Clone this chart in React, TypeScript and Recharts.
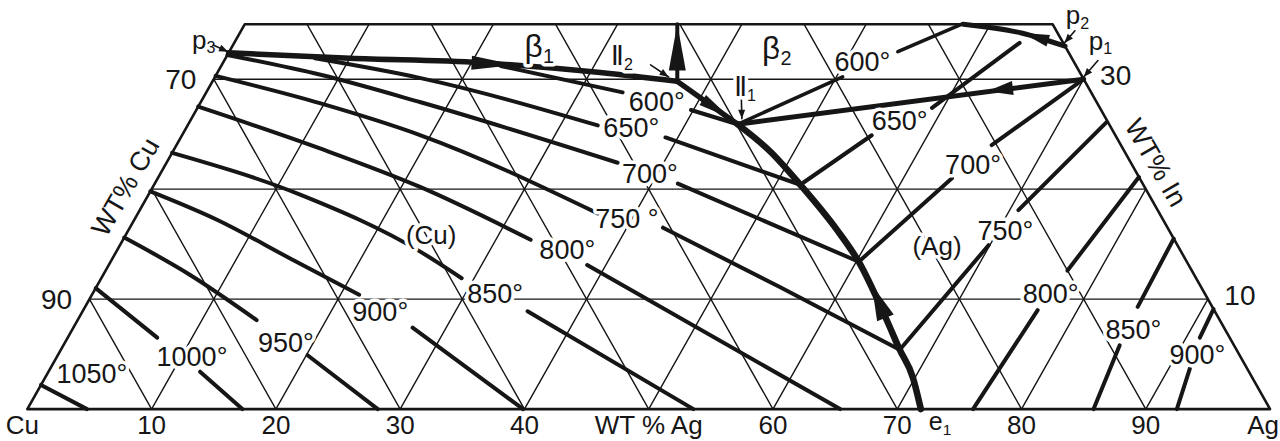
import { ScatterChart, Scatter, XAxis, YAxis } from "recharts";

// composition point: [wt% Ag, wt% In], Cu is the balance
type Pt = [number, number];

const W = 1280;
const H = 441;
const X_DOMAIN: [number, number] = [-2.2, 100.8];
const Y_DOMAIN: [number, number] = [-2.9, 37.2];
const PX_X = W / (X_DOMAIN[1] - X_DOMAIN[0]);
const PX_Y = H / (Y_DOMAIN[1] - Y_DOMAIN[0]);

const INK = "#161616";
const FONT = "'Liberation Sans', 'DejaVu Sans', Arial, sans-serif";

// ---- axes / grid ----
const BASE_TICKS = [0, 10, 20, 30, 40, 50, 60, 70, 80, 90, 100];
const BASE_TICK_LABELS = ["Cu", "10", "20", "30", "40", "WT % Ag", "60", "70", "80", "90", "Ag"];
const GRID_STEPS = [10, 20, 30, 40, 50, 60, 70, 80, 90];
const IN_LEVELS = [10, 20, 30];
const IN_TOP = 35; // section cut off at 35 wt% In
const LEFT_TICKS = [
  { inn: 30, label: "70" },
  { inn: 10, label: "90" },
];
const RIGHT_TICKS = [
  { inn: 30, label: "30" },
  { inn: 10, label: "10" },
];

// ---- univariant lines ----
const p3ToII2: Pt[] = [[0, 32.4], [10.0, 31.9], [20.7, 31.5], [30.8, 30.6], [37.4, 29.8]];
const ii2ToII1: Pt[] = [[37.4, 29.8], [44.2, 25.9]];
const ii2ToTop: Pt[] = [[37.4, 29.8], [34.8, 35]];
const ii1ToP1: Pt[] = [[44.2, 25.9], [70, 30]];
const p2Line: Pt[] = [[57.8, 35], [62.9, 34.2], [67, 33]];
const ii1ToE1: Pt[] = [
  [44.2, 25.9], [48.1, 23.4], [52.0, 20.4], [57.0, 16.3], [60.2, 13.4],
  [65.1, 8.1], [67.5, 5.4], [69.8, 2.9], [71.9, 0],
];

// ---- liquidus isotherms, Cu-rich side (segments split at the label) ----
const cu600: Pt[][] = [[[22.5, 31.2], [33.5, 28.8]], [[39.8, 27.2], [44.2, 25.9]]];
const cu650: Pt[][] = [[[7.2, 31.9], [16.6, 30.1], [33.0, 25.8]], [[39.0, 24.7], [52.0, 20.4]]];
const cu700: Pt[][] = [[[0, 32.2], [8.4, 30.4], [17.7, 27.9], [36.3, 22.4]], [[42.1, 20.5], [60.2, 13.4]]];
const cu750: Pt[][] = [[[0, 30.3], [9.7, 27.8], [19.2, 24.9], [37.0, 17.8]], [[42.9, 16.5], [55.0, 11.1], [67.5, 5.4]]];
const cu800: Pt[][] = [[[0, 27.5], [11.7, 23.7], [21.5, 20.2], [32.8, 15.4]], [[38.5, 13.1], [65.4, 0]]];
const cu850: Pt[][] = [[[0, 23.3], [12.2, 19.5], [24.5, 14.3], [29.0, 11.9]], [[35.8, 8.9], [53.6, 0]]];
const cu900: Pt[][] = [[[0, 19.8], [6.7, 17.2], [14.3, 13.7], [21.5, 10.4]], [[27.3, 7.4], [39.9, 0]]];
const cu950: Pt[][] = [[[0, 15.6], [7.0, 12.2], [14.4, 8.1]], [[20.1, 4.9], [28.2, 0]]];
const cu1000: Pt[][] = [[[0, 11.0], [7.2, 6.5]], [[12.2, 3.4], [17.3, 0]]];
const cu1050: Pt[][] = [[[0, 2.2], [4.8, 0]]];

// ---- liquidus isotherms, Ag-rich side ----
const ag600: Pt[][] = [[[44.2, 25.9], [50.5, 30.2]], [[53.8, 32.5], [57.7, 35]]];
const ag650: Pt[][] = [[[52.0, 20.4], [55.5, 24.9]], [[59.1, 27.4], [63.2, 33.3]]];
const ag700: Pt[][] = [[[60.2, 13.4], [63.9, 21.0]], [[65.6, 24.0], [70, 30]]];
const ag750: Pt[][] = [[[67.5, 5.4], [69.9, 14.9]], [[70.7, 18.1], [73.8, 26.1]]];
const ag800: Pt[][] = [[[76.1, 0], [76.8, 9.0]], [[77.4, 12.6], [78.9, 21.1]]];
const ag850: Pt[][] = [[[85.8, 0], [85.0, 5.8]], [[84.7, 9.3], [84.5, 15.5]]];
const ag900: Pt[][] = [[[92.5, 0], [91.7, 3.7]], [[91.1, 6.5], [90.9, 9.1]]];

// ---- labels ----
const TEMP_LABELS: { text: string; at: Pt }[] = [
  { text: "600°", at: [36.7, 27.9] },
  { text: "650°", at: [35.8, 25.6] },
  { text: "700°", at: [39.4, 21.4] },
  { text: "750 °", at: [39.6, 17.3] },
  { text: "800°", at: [36.2, 14.5] },
  { text: "850°", at: [32.4, 10.5] },
  { text: "900°", at: [24.0, 8.8] },
  { text: "950°", at: [17.8, 6.0] },
  { text: "1000°", at: [10.9, 4.7] },
  { text: "1050°", at: [3.6, 3.2] },
  { text: "600°", at: [51.4, 31.6] },
  { text: "650°", at: [57.1, 26.2] },
  { text: "700°", at: [65.0, 22.2] },
  { text: "750°", at: [70.6, 16.2] },
  { text: "800°", at: [77.1, 10.5] },
  { text: "850°", at: [85.4, 7.2] },
  { text: "900°", at: [91.7, 4.9] },
];
const POINT_LABELS: { text: string; sub: string; at: Pt }[] = [
  { text: "p", sub: "3", at: [-2.6, 33.6] },
  { text: "p", sub: "2", at: [66.6, 35.8] },
  { text: "p", sub: "1", at: [69.6, 33.5] },
];
const GREEK_LABELS: { text: string; sub: string; at: Pt }[] = [
  { text: "β", sub: "1", at: [24.7, 33.0] },
  { text: "β", sub: "2", at: [43.9, 32.8] },
];
const PHASE_LABELS: { text: string; sub?: string; at: Pt }[] = [
  { text: "Ⅱ", sub: "2", at: [31.8, 32.1] },
  { text: "Ⅱ", sub: "1", at: [43.1, 29.3] },
  { text: "(Cu)", at: [24.6, 15.8] },
  { text: "(Ag)", at: [65.8, 14.8] },
];
const EUTECTIC_LABEL = { text: "e", sub: "1", ag: 73.45 };
const CU_TITLE: Pt = [-2.2, 20.2];
const IN_TITLE: Pt = [79.6, 22.4];

// direction arrows on the univariant lines
const ARROW_HEADS: { tip: Pt; tail: Pt }[] = [
  { tip: [23.6, 31.3], tail: [20.0, 31.5] },
  { tip: [43.3, 26.5], tail: [40.3, 28.1] },
  { tip: [34.8, 35], tail: [36.9, 30.8] },
  { tip: [62.8, 28.9], tail: [64.7, 29.2] },
  { tip: [63.0, 34.2], tail: [65.4, 33.5] },
  { tip: [62.3, 11.3], tail: [64.9, 8.3] },
];
const ARROW_HALF = [7, 6, 8.5, 7, 6, 9];

// small pointers from the point labels
const POINTERS: { from: Pt; to: Pt }[] = [
  { from: [-1.6, 33.1], to: [-0.1, 32.5] },
  { from: [34.5, 31.3], to: [36.5, 30.2] },
  { from: [43.2, 28.5], to: [44.3, 26.4] },
  { from: [70.3, 31.7], to: [69.9, 30.2] },
  { from: [67.1, 34.4], to: [66.8, 33.3] },
];

const toXY = ([ag, inn]: Pt) => ({ x: ag + inn / 2, y: inn });

const gridLines: Pt[][] = [
  ...IN_LEVELS.map((v): Pt[] => [[0, v], [100 - v, v]]),
  ...GRID_STEPS.map((a): Pt[] => [[a, 0], [a, Math.min(IN_TOP, 100 - a)]]),
  ...GRID_STEPS.map((a): Pt[] => {
    const t = Math.min(IN_TOP, a);
    return [[a, 0], [a - t, t]];
  }),
];
const outline: Pt[] = [[0, 0], [100, 0], [100 - IN_TOP, IN_TOP], [0, IN_TOP], [0, 0]];

const Blank = () => <g />;

function path(key: string, pts: Pt[], width: number, curve: "linear" | "monotoneX" = "linear") {
  return (
    <Scatter
      key={key}
      data={pts.map(toXY)}
      fill="none"
      shape={Blank}
      line={{ stroke: INK, strokeWidth: width, strokeLinecap: "round", strokeLinejoin: "round" }}
      lineJointType={curve}
      isAnimationActive={false}
    />
  );
}

type TextOpts = { size: number; dx?: number; dy?: number; rotate?: number; halo?: boolean };

const textShape = (o: TextOpts) => (props: any) => {
  const { cx, cy, payload } = props;
  let anchor: "middle" | "end" = "middle";
  let x = cx + (o.dx ?? 0);
  const y = cy + (o.dy ?? 0);
  if (payload.text === "Ag" && payload.base) {
    anchor = "end";
    x += 9;
  }
  if (payload.text === "Cu" && payload.base) x -= 5;
  return (
    <text
      x={x}
      y={y}
      textAnchor={anchor}
      dominantBaseline="central"
      fontFamily={FONT}
      fontSize={o.size}
      fill={INK}
      stroke={o.halo ? "#fff" : "none"}
      strokeWidth={o.halo ? 7 : 0}
      strokeLinejoin="round"
      paintOrder="stroke"
      transform={o.rotate ? `rotate(${o.rotate} ${x} ${y})` : undefined}
    >
      {payload.text}
      {payload.sub && (
        <tspan fontSize={o.size * 0.62} dy={o.size * 0.3}>
          {payload.sub}
        </tspan>
      )}
    </text>
  );
};

const ArrowHead = (props: any) => {
  const { cx, cy, payload } = props;
  let bx = cx + (payload.tx - payload.x) * PX_X;
  let by = cy - (payload.ty - payload.y) * PX_Y;
  const len = Math.hypot(cx - bx, cy - by) || 1;
  const ux = (cx - bx) / len;
  const uy = (cy - by) / len;
  if (payload.len) {
    bx = cx - ux * payload.len;
    by = cy - uy * payload.len;
  }
  const hw = payload.half;
  return (
    <polygon
      points={`${cx},${cy} ${bx - uy * hw},${by + ux * hw} ${bx + uy * hw},${by - ux * hw}`}
      fill={INK}
    />
  );
};

const tempShape = textShape({ size: 27, halo: true });
const phaseShape = textShape({ size: 26, halo: true });
const greekShape = textShape({ size: 32, halo: true });
const pointShape = textShape({ size: 26 });
const baseShape = textShape({ size: 26, dy: 16 });
const eShape = textShape({ size: 25, dy: 12 });
const leftTickShape = textShape({ size: 28, dx: -33 });
const rightTickShape = textShape({ size: 28, dx: 32, dy: -4 });
const cuTitleShape = textShape({ size: 27, rotate: -60 });
const inTitleShape = textShape({ size: 27, rotate: 60 });

const arrowData = ARROW_HEADS.map((a, i) => ({
  ...toXY(a.tip),
  tx: toXY(a.tail).x,
  ty: a.tail[1],
  half: ARROW_HALF[i],
}));
const pointerHeads = POINTERS.map((p) => ({
  ...toXY(p.to),
  tx: toXY(p.from).x,
  ty: p.from[1],
  half: 3.5,
  len: 9,
}));

const isotherms: [string, Pt[][], number][] = [
  ["cu600", cu600, 4], ["cu650", cu650, 4], ["cu700", cu700, 4], ["cu750", cu750, 4],
  ["cu800", cu800, 4], ["cu850", cu850, 4], ["cu900", cu900, 4], ["cu950", cu950, 4],
  ["cu1000", cu1000, 4], ["cu1050", cu1050, 4],
  ["ag600", ag600, 3.6], ["ag650", ag650, 4], ["ag700", ag700, 4], ["ag750", ag750, 4],
  ["ag800", ag800, 4], ["ag850", ag850, 4], ["ag900", ag900, 4],
];

export default function App() {
  return (
    <div style={{ position: "absolute", left: 0, top: 0, width: W, height: H, background: "#fff" }}>
      <ScatterChart width={W} height={H} margin={{ top: 0, right: 0, bottom: 0, left: 0 }}>
        <XAxis type="number" dataKey="x" domain={X_DOMAIN} hide allowDataOverflow />
        <YAxis type="number" dataKey="y" domain={Y_DOMAIN} hide allowDataOverflow />

        {gridLines.map((g, i) => path(`grid${i}`, g, 1.4))}
        {path("outline", outline, 2.6)}

        {isotherms.flatMap(([name, segs, w]) =>
          segs.map((s, i) => path(`${name}-${i}`, s, w, "monotoneX"))
        )}

        {path("p3-II2", p3ToII2, 5.5, "monotoneX")}
        {path("II2-II1", ii2ToII1, 5.5)}
        {path("II2-top", ii2ToTop, 4)}
        {path("II1-p1", ii1ToP1, 5)}
        {path("p2", p2Line, 5, "monotoneX")}
        {path("II1-e1", ii1ToE1, 6.5, "monotoneX")}

        <Scatter data={arrowData} shape={ArrowHead} isAnimationActive={false} />
        {POINTERS.map((p, i) => path(`ptr${i}`, [p.from, p.to], 1.6))}
        <Scatter data={pointerHeads} shape={ArrowHead} isAnimationActive={false} />

        <Scatter
          data={TEMP_LABELS.map((l) => ({ ...toXY(l.at), text: l.text }))}
          shape={tempShape}
          isAnimationActive={false}
        />
        <Scatter
          data={PHASE_LABELS.map((l) => ({ ...toXY(l.at), text: l.text, sub: l.sub }))}
          shape={phaseShape}
          isAnimationActive={false}
        />
        <Scatter
          data={GREEK_LABELS.map((l) => ({ ...toXY(l.at), text: l.text, sub: l.sub }))}
          shape={greekShape}
          isAnimationActive={false}
        />
        <Scatter
          data={POINT_LABELS.map((l) => ({ ...toXY(l.at), text: l.text, sub: l.sub }))}
          shape={pointShape}
          isAnimationActive={false}
        />
        <Scatter
          data={BASE_TICKS.map((t, i) => ({ x: t, y: 0, text: BASE_TICK_LABELS[i], base: true }))}
          shape={baseShape}
          isAnimationActive={false}
        />
        <Scatter
          data={[{ x: EUTECTIC_LABEL.ag, y: 0, text: EUTECTIC_LABEL.text, sub: EUTECTIC_LABEL.sub }]}
          shape={eShape}
          isAnimationActive={false}
        />
        <Scatter
          data={LEFT_TICKS.map((t) => ({ ...toXY([0, t.inn]), text: t.label }))}
          shape={leftTickShape}
          isAnimationActive={false}
        />
        <Scatter
          data={RIGHT_TICKS.map((t) => ({ ...toXY([100 - t.inn, t.inn]), text: t.label }))}
          shape={rightTickShape}
          isAnimationActive={false}
        />
        <Scatter data={[{ ...toXY(CU_TITLE), text: "WT% Cu" }]} shape={cuTitleShape} isAnimationActive={false} />
        <Scatter data={[{ ...toXY(IN_TITLE), text: "WT% In" }]} shape={inTitleShape} isAnimationActive={false} />
      </ScatterChart>
    </div>
  );
}
